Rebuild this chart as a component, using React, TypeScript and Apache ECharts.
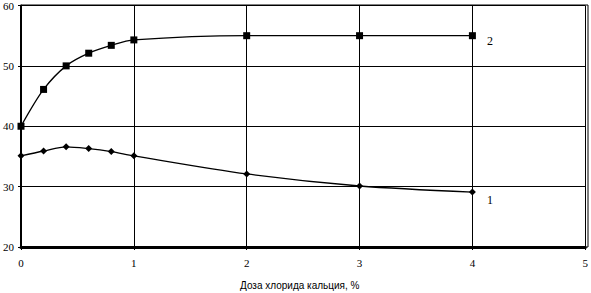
import React, { useEffect, useRef } from "react";
import * as echarts from "echarts";

const doseX = [0, 0.2, 0.4, 0.6, 0.8, 1, 2, 3, 4];
const series2Values = [40, 46.1, 50, 52.1, 53.4, 54.3, 55, 55, 55];
const series1Values = [35.1, 35.9, 36.6, 36.3, 35.8, 35.1, 32.1, 30.1, 29.1];
const seriesNames = ["2", "1"];
const xAxisTitle = "Доза хлорида кальция, %";

const font = "'Liberation Serif', 'Times New Roman', serif";
const sans = "'Liberation Sans', Arial, sans-serif";

function build(xs: number[], ys: number[], name: string, dy: number) {
  return xs.map((x, i) => {
    const item: any = { value: [x, ys[i]] };
    if (i === xs.length - 1) {
      item.label = {
        show: true,
        formatter: name,
        position: "right",
        offset: [6, dy],
        color: "#000",
        fontFamily: font,
        fontSize: 12,
      };
    }
    return item;
  });
}

export default function App() {
  const ref = useRef<HTMLDivElement>(null);
  useEffect(() => {
    if (!ref.current) return;
    const chart = echarts.init(ref.current, undefined, { renderer: "svg" });
    chart.setOption({
      animation: false,
      backgroundColor: "#fff",
      grid: { left: 21, right: 3, top: 5, bottom: 46, containLabel: false },
      xAxis: {
        type: "value",
        min: 0,
        max: 5,
        interval: 1,
        axisLine: { show: true, lineStyle: { color: "#000", width: 3 } },
        axisTick: { show: true, length: 3, lineStyle: { color: "#000", width: 1 } },
        axisLabel: { color: "#000", fontFamily: font, fontSize: 11, margin: 10 },
        splitLine: { show: true, lineStyle: { color: "#000", width: 1 } },
      },
      yAxis: {
        type: "value",
        min: 20,
        max: 60,
        interval: 10,
        axisLine: { show: true, lineStyle: { color: "#000", width: 2 } },
        axisTick: { show: true, length: 3, lineStyle: { color: "#000", width: 1 } },
        axisLabel: { color: "#000", fontFamily: font, fontSize: 11, margin: 7 },
        splitLine: { show: true, lineStyle: { color: "#000", width: 1 } },
      },
      graphic: [
        {
          type: "rect",
          shape: { x: 21, y: 5, width: 567, height: 242 },
          style: { fill: "none", stroke: "#000", lineWidth: 1 },
          silent: true,
          z: 0,
        },
        {
          type: "text",
          left: 240,
          top: 280,
          style: { text: xAxisTitle, fill: "#000", font: `10px ${sans}` },
        },
      ],
      series: [
        {
          type: "line",
          name: seriesNames[0],
          data: build(doseX, series2Values, seriesNames[0], 5),
          smooth: 0.3,
          symbol: "rect",
          symbolSize: 7,
          lineStyle: { color: "#000", width: 1.3 },
          itemStyle: { color: "#000" },
          z: 5,
        },
        {
          type: "line",
          name: seriesNames[1],
          data: build(doseX, series1Values, seriesNames[1], 8),
          smooth: 0.3,
          symbol: "diamond",
          symbolSize: 7,
          lineStyle: { color: "#000", width: 1.3 },
          itemStyle: { color: "#000" },
          z: 5,
        },
      ],
    });
    return () => chart.dispose();
  }, []);
  return <div ref={ref} style={{ width: 591, height: 293, position: "absolute", left: 0, top: 0 }} />;
}
